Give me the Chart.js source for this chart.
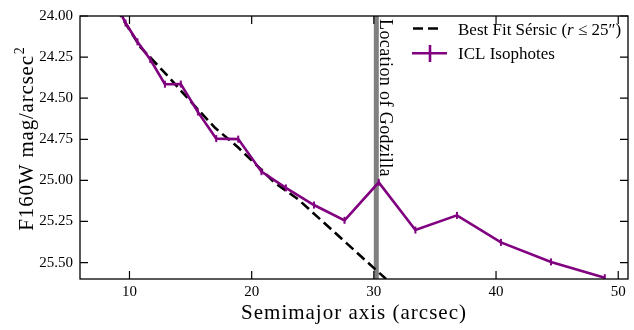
<!DOCTYPE html>
<html>
<head>
<meta charset="utf-8">
<title>ICL Isophotes</title>
<script src="https://cdn.jsdelivr.net/npm/chart.js@4.4.1/dist/chart.umd.min.js"></script>
<style>
  html, body { margin: 0; padding: 0; background: #fff; }
  #wrap { width: 634px; height: 330px; }
</style>
</head>
<body>
<div id="wrap"><canvas id="perfil" width="634" height="330"></canvas></div>
<script>
// Isofotas ICL: semieje mayor (arcsec) y brillo superficial (mag/arcsec^2)
const radioICL = [8.8, 9.68, 10.65, 11.7, 12.9, 14.2, 15.6, 17.1, 18.9, 20.8, 22.8, 25.1, 27.6, 30.4, 33.4, 36.8, 40.4, 44.5, 48.9];
const magICL   = [23.91, 24.043, 24.157, 24.265, 24.415, 24.414, 24.584, 24.746, 24.749, 24.947, 25.046, 25.150, 25.243, 25.012, 25.302, 25.213, 25.377, 25.496, 25.592];

const radioSersic = [9.0, 9.3, 10.9, 13.2, 15.0, 17.0, 18.9, 21.9, 23.8, 26.4, 30.1, 31.0];
const magSersic   = [23.95, 24.0, 24.19, 24.37, 24.52, 24.68, 24.80, 25.015, 25.115, 25.29, 25.54, 25.60];

const posGodzilla = 30.2;
const ticksX = [10, 20, 30, 40, 50];
const ticksY = [24.00, 24.25, 24.50, 24.75, 25.00, 25.25, 25.50];

const etiquetaSersic = 'Best Fit Sérsic';
const etiquetaICL    = 'ICL Isophotes';

const fuente = "'Liberation Serif', 'Times New Roman', serif";
const morado = '#800080';

const ctx = document.getElementById('perfil').getContext('2d');

const datosICL    = radioICL.map((r, i) => ({ x: r, y: magICL[i] }));
const datosSersic = radioSersic.map((r, i) => ({ x: r, y: magSersic[i] }));

// marco, ticks hacia dentro, titulos, leyenda y la linea de Godzilla
const marco = {
    id: 'marco',
    beforeDatasetsDraw(chart) {
        const { ctx, chartArea: a, scales: { x } } = chart;
        const px = x.getPixelForValue(posGodzilla);
        ctx.save();
        ctx.strokeStyle = '#808080';
        ctx.lineWidth = 5;
        ctx.beginPath();
        ctx.moveTo(px, a.top);
        ctx.lineTo(px, a.bottom);
        ctx.stroke();
        ctx.restore();
    },
    afterDraw(chart) {
        const { ctx, chartArea: a, scales: { x, y } } = chart;
        const largo = 8;
        ctx.save();

        // marco
        ctx.strokeStyle = '#000';
        ctx.lineWidth = 1.3;
        ctx.strokeRect(a.left, a.top, a.right - a.left, a.bottom - a.top);

        // ticks
        ctx.lineWidth = 1.2;
        ctx.beginPath();
        ticksX.forEach(v => {
            const px = x.getPixelForValue(v);
            ctx.moveTo(px, a.bottom); ctx.lineTo(px, a.bottom - largo);
            ctx.moveTo(px, a.top);    ctx.lineTo(px, a.top + largo);
        });
        ticksY.forEach(v => {
            const py = y.getPixelForValue(v);
            ctx.moveTo(a.left, py);  ctx.lineTo(a.left + largo, py);
            ctx.moveTo(a.right, py); ctx.lineTo(a.right - largo, py);
        });
        ctx.stroke();

        ctx.fillStyle = '#000';

        // texto Godzilla
        ctx.save();
        ctx.translate(x.getPixelForValue(posGodzilla) + 4, a.top + 3);
        ctx.rotate(Math.PI / 2);
        ctx.font = '18px ' + fuente;
        ctx.letterSpacing = '0.4px';
        ctx.textAlign = 'left';
        ctx.textBaseline = 'alphabetic';
        ctx.fillText('Location of Godzilla', 0, 0);
        ctx.restore();

        // titulo eje x
        ctx.save();
        ctx.font = '21px ' + fuente;
        ctx.letterSpacing = '1px';
        ctx.textAlign = 'center';
        ctx.textBaseline = 'alphabetic';
        ctx.fillText('Semimajor axis (arcsec)', (a.left + a.right) / 2, 319);
        ctx.restore();

        // titulo eje y con superindice
        ctx.save();
        ctx.translate(33, 139);
        ctx.rotate(-Math.PI / 2);
        ctx.letterSpacing = '0.8px';
        ctx.textBaseline = 'alphabetic';
        ctx.textAlign = 'left';
        ctx.font = '21px ' + fuente;
        const base = 'F160W mag/arcsec';
        const wBase = ctx.measureText(base).width;
        ctx.font = '14px ' + fuente;
        const wSup = ctx.measureText('2').width;
        const x0 = -(wBase + wSup) / 2;
        ctx.font = '21px ' + fuente;
        ctx.fillText(base, x0, 0);
        ctx.font = '14px ' + fuente;
        ctx.fillText('2', x0 + wBase + 1, -9);
        ctx.restore();

        // leyenda
        ctx.save();
        ctx.strokeStyle = '#000';
        ctx.lineWidth = 2.6;
        ctx.setLineDash([10, 5]);
        ctx.beginPath();
        ctx.moveTo(413, 28.5);
        ctx.lineTo(441, 28.5);
        ctx.stroke();
        ctx.setLineDash([]);

        ctx.strokeStyle = morado;
        ctx.beginPath();
        ctx.moveTo(412, 53.3);
        ctx.lineTo(447, 53.3);
        ctx.moveTo(430, 45);
        ctx.lineTo(430, 62);
        ctx.stroke();

        ctx.textAlign = 'left';
        ctx.textBaseline = 'alphabetic';
        let xx = 458;
        ctx.font = '17px ' + fuente;
        const t1 = etiquetaSersic + ' (';
        ctx.fillText(t1, xx, 34.5);
        xx += ctx.measureText(t1).width;
        ctx.font = 'italic 17px ' + fuente;
        ctx.fillText('r', xx, 34.5);
        xx += ctx.measureText('r').width;
        ctx.font = '17px ' + fuente;
        ctx.fillText(' \u2264 25\u2033)', xx, 34.5);

        ctx.fillText(etiquetaICL, 458, 58.5);
        ctx.restore();

        ctx.restore();
    }
};

new Chart(ctx, {
    type: 'line',
    data: {
        datasets: [
            {
                label: etiquetaSersic,
                data: datosSersic,
                borderColor: '#000',
                borderWidth: 2.6,
                borderDash: [10, 5],
                pointRadius: 0,
                fill: false,
                order: 2
            },
            {
                label: etiquetaICL,
                data: datosICL,
                borderColor: morado,
                borderWidth: 2.6,
                pointStyle: 'line',
                pointRotation: 90,
                pointRadius: 3.5,
                pointBorderWidth: 2,
                pointBorderColor: morado,
                pointBackgroundColor: morado,
                fill: false,
                order: 1
            }
        ]
    },
    options: {
        responsive: false,
        animation: false,
        devicePixelRatio: 1,
        layout: { padding: { top: 8, right: 1, left: 0, bottom: 0 } },
        plugins: {
            legend: { display: false },
            tooltip: { enabled: false }
        },
        scales: {
            x: {
                type: 'linear',
                min: 5.95,
                max: 50.8,
                grid: { display: false, drawTicks: false },
                border: { display: false },
                ticks: {
                    autoSkip: false,
                    maxRotation: 0,
                    padding: 4,
                    color: '#000',
                    font: { family: fuente, size: 15 },
                    callback: v => v
                },
                afterBuildTicks: s => { s.ticks = ticksX.map(v => ({ value: v })); },
                afterFit: s => { s.height = 51; }
            },
            y: {
                type: 'linear',
                reverse: true,
                min: 24,
                max: 25.6,
                grid: { display: false, drawTicks: false },
                border: { display: false },
                ticks: {
                    autoSkip: false,
                    padding: 7,
                    color: '#000',
                    font: { family: fuente, size: 15 },
                    callback: v => Number(v).toFixed(2)
                },
                afterBuildTicks: s => { s.ticks = ticksY.map(v => ({ value: v })); },
                afterFit: s => { s.height = undefined; s.width = 80; }
            }
        }
    },
    plugins: [marco]
});
</script>
</body>
</html>
